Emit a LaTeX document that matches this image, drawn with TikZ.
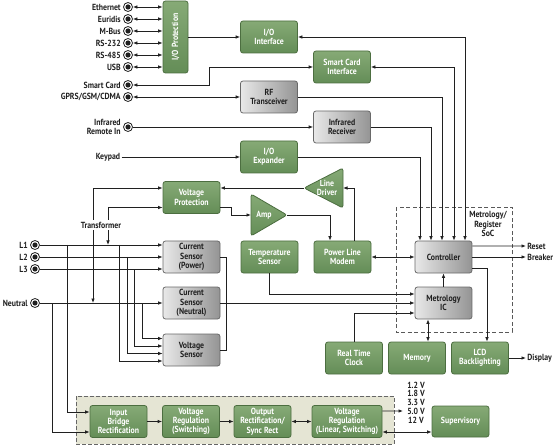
\documentclass[tikz,border=0pt]{standalone}
\usepackage{fontspec}
\setmainfont[FakeStretch=0.88]{PT Sans}
\usetikzlibrary{arrows.meta,positioning}
\definecolor{grn}{RGB}{100,141,87}
\definecolor{grnhi}{RGB}{134,170,118}
\definecolor{grnline}{RGB}{76,110,64}
\definecolor{gryhi}{RGB}{232,232,232}
\definecolor{grylo}{RGB}{148,148,148}
\definecolor{gryline}{RGB}{105,105,105}
\definecolor{beige}{RGB}{229,229,212}
\definecolor{ink}{RGB}{32,32,32}

\begin{document}
\begin{tikzpicture}[x=1bp, y=-1bp, color=ink, line width=0.8bp,
  font=\fontsize{8.9}{9.4}\selectfont\bfseries,
  >={Latex[length=4.5bp,width=3.6bp]},
  blk/.style={rounded corners=2.5bp, align=center, minimum width=57bp, minimum height=32bp, inner sep=0.5bp},
  gbox/.style={blk, draw=grnline, top color=grnhi, bottom color=grn, text=white},
  ybox/.style={blk, draw=gryline, left color=gryhi, right color=grylo, text=ink},
  gtri/.style={draw=grnline, rounded corners=2.5bp, top color=grnhi, bottom color=grn},
  gtxt/.style={text=white, align=center, inner sep=0pt},
  jack/.style={circle, draw, line width=0.8bp, inner sep=0pt, minimum size=9bp,
    path picture={\fill (path picture bounding box.center) circle (2.6bp);}},
  tag/.style={inner sep=1bp}]
\useasboundingbox (0,0) rectangle (553,447);

\draw[fill=beige, draw=gray!80!black, dash pattern=on 4bp off 2bp, line width=0.9bp] (76,396) rectangle (394,444);
\draw[draw=gray!70!black, dash pattern=on 4bp off 2.5bp, line width=0.9bp] (396,207) rectangle (512,332);

\node[gbox, minimum width=25bp, minimum height=72bp] (ioprot) at (175.5,37) {\rotatebox{90}{I/O Protection}};
\node[gbox] (ioint) at (269,37) {I/O\\Interface};
\node[gbox] (sci) at (342,67) {Smart Card\\Interface};
\node[ybox] (rf) at (269,97) {RF\\Transceiver};
\node[ybox] (irrx) at (342,127) {Infrared\\Receiver};
\node[gbox] (ioexp) at (269,157) {I/O\\Expander};
\node[gbox] (vprot) at (191.5,197.5) {Voltage\\Protection};
\draw[gtri] (251,194) -- (287,215) -- (251,236) -- cycle;
\node[gtxt] (amp) at (264,215) {Amp};
\coordinate (ampin) at (251,215);
\coordinate (ampout) at (287,215);
\draw[gtri] (343,168) -- (304,188) -- (343,208) -- cycle;
\node[gtxt] (ldrv) at (327,188) {Line\\Driver};
\coordinate (ldrvin) at (343,188);
\coordinate (ldrvout) at (304,188);
\node[ybox] (cspow) at (191.5,257) {Current\\Sensor\\(Power)};
\node[ybox] (csneu) at (191.5,303) {Current\\Sensor\\(Neutral)};
\node[ybox] (vsens) at (191.5,350) {Voltage\\Sensor};
\node[gbox] (temp) at (269.5,257) {Temperature\\Sensor};
\node[gbox] (plm) at (342.5,257) {Power Line\\Modem};
\node[ybox] (ctrl) at (443.5,257) {Controller};
\node[ybox] (metic) at (443.5,303) {Metrology\\IC};
\node[gbox] (rtc) at (354,358) {Real Time\\Clock};
\node[gbox] (mem) at (417,358) {Memory};
\node[gbox] (lcd) at (480,358) {LCD\\Backlighting};
\node[gbox] (ibr) at (118.5,421.5) {Input\\Bridge\\Rectification};
\node[gbox] (vrsw) at (191,421.5) {Voltage\\Regulation\\(Switching)};
\node[gbox] (orect) at (262.5,421.5) {Output\\Rectification/\\Sync Rect};
\node[gbox, minimum width=70bp] (vrlin) at (347,421.5) {Voltage\\Regulation\\(Linear, Switching)};
\node[gbox, minimum height=31bp] (sup) at (460.5,421.5) {Supervisory};

\node[tag, align=center] (soc) at (488,224) {Metrology/\\Register\\SoC};
\node[tag, anchor=west] (reset) at (526,246) {Reset};
\node[tag, anchor=west] (brk) at (526,257) {Breaker};
\node[tag, anchor=west] (disp) at (526,358) {Display};
\node[tag, align=center, font=\fontsize{8.9}{8.75}\selectfont\bfseries] (volts) at (416,402.5) {1.2 V\\1.8 V\\3.3 V\\5.0 V\\12 V};
\coordinate (vout) at (403,411);

\node[jack] (jeth) at (128,7) {};
\node[tag, left=1bp of jeth] (eth) {Ethernet};
\node[jack] (jeur) at (128,19) {};
\node[tag, left=1bp of jeur] (eur) {Euridis};
\node[jack] (jmbus) at (128,31) {};
\node[tag, left=1bp of jmbus] (mbus) {M-Bus};
\node[jack] (j232) at (128,43) {};
\node[tag, left=1bp of j232] (rs232) {RS-232};
\node[jack] (j485) at (128,55) {};
\node[tag, left=1bp of j485] (rs485) {RS-485};
\node[jack] (jusb) at (128,67) {};
\node[tag, left=1bp of jusb] (usb) {USB};
\node[jack] (jsc) at (128,85) {};
\node[tag, left=1bp of jsc] (sc) {Smart Card};
\node[jack] (jgprs) at (128,97) {};
\node[tag, left=1bp of jgprs] (gprs) {GPRS/GSM/CDMA};
\node[jack] (jir) at (128,127) {};
\node[tag, left=1bp of jir, align=right] (ir) {Infrared\\Remote In};
\node[tag, anchor=east] (key) at (121.5,157) {Keypad};
\node[jack] (jl1) at (35,245) {};
\node[tag, left=1bp of jl1] (l1) {L1};
\node[jack] (jl2) at (35,257) {};
\node[tag, left=1bp of jl2] (l2) {L2};
\node[jack] (jl3) at (35,269) {};
\node[tag, left=1bp of jl3] (l3) {L3};
\node[jack] (jn) at (35,303) {};
\node[tag, left=1bp of jn] (neu) {Neutral};

\draw[<->] (jeth) -- (jeth -| ioprot.west);
\draw[<->] (jeur) -- (jeur -| ioprot.west);
\draw[<->] (jmbus) -- (jmbus -| ioprot.west);
\draw[<->] (j232) -- (j232 -| ioprot.west);
\draw[<->] (j485) -- (j485 -| ioprot.west);
\draw[<->] (jusb) -- (jusb -| ioprot.west);
\draw[->] (ioprot) -- (ioint);
\draw[<->] (jsc) -| (209,67) -- (sci);
\draw[<->] (jgprs) -- (rf);
\draw[->] (jir) -- (irrx);
\draw[->] (key) -- (ioexp);
\draw[<->] (ioint) -| ([xshift=21.5bp]ctrl.north);
\draw[<->] (sci) -| ([xshift=10.5bp]ctrl.north);
\draw[->] (rf) -| ([xshift=-1.5bp]ctrl.north);
\draw[->] (irrx) -| ([xshift=-12.5bp]ctrl.north);
\draw[->] (ioexp) -| ([xshift=-23.5bp]ctrl.north);

\draw[->] (ldrvout) -- (ldrvout -| vprot.east);
\draw[->] ([yshift=-10bp]vprot.east) -- ++(11,0) |- (ampin);
\draw[->] (ampout) -| ([xshift=-12.5bp]plm.north);
\draw[->] ([xshift=11.5bp]plm.north) |- (ldrvin);
\draw[<->] (plm) -- (ctrl);
\draw[->] (metic) -- (ctrl);
\draw[<->] ([xshift=-15.5bp]metic.south) -- ([xshift=-15.5bp]metic.south |- mem.north);
\draw[->] ([yshift=11bp]ctrl.east) -- (reset);
\draw[->] (ctrl) -- (brk);
\draw[->] ([yshift=-11bp]ctrl.east) -| ([xshift=7bp]lcd.north);
\draw[->] (lcd) -- (disp);
\draw[->] (rtc.north) |- ([yshift=-10bp]metic.west);
\draw[->] (temp.south) |- ([yshift=9bp]metic.west);
\draw[->] (csneu) -- (metic);
\draw (cspow.east) -- ++(6,0) |- (vsens.east);

\draw[->] (jl1) -- (jl1 -| cspow.west);
\draw[->] (jl2) -- (cspow);
\draw[->] (jl3) -- (jl3 -| cspow.west);
\draw[->] (jn) -- (csneu);
\coordinate (t1a) at (67,245);
\coordinate (tna) at (52,303);
\coordinate (t1b) at (119,245);
\coordinate (t2b) at (127,257);
\coordinate (t3b) at (134,269);
\coordinate (tnb) at (142,303);
\draw[->] (t1a) |- ([yshift=9.5bp]ibr.west);
\draw[->] (tna) |- ([yshift=-10.5bp]ibr.west);
\draw[->] (t1b) |- ([yshift=-11bp]vsens.west);
\draw[->] (t2b) |- ([yshift=-3.5bp]vsens.west);
\draw[->] (t3b) |- ([yshift=4bp]vsens.west);
\draw[->] (tnb) |- ([yshift=11.5bp]vsens.west);
\coordinate (ttn) at (93,303);
\coordinate (tt1) at (108,245);
\draw[<->] (ttn) |- ([yshift=9.5bp]vprot.west);
\draw[<->] (tt1) |- ([yshift=-10bp]vprot.west);
\node[tag, fill=white, inner ysep=2bp] (trf) at (101,225) {Transformer};

\draw[->] (ibr) -- (vrsw);
\draw[->] (vrsw) -- (orect);
\draw[<->] (orect) -- (vrlin);
\draw[->] ([yshift=10.5bp]vrlin.east) -- (vout);
\draw[<->] ([yshift=-10.5bp]vrlin.east) -- ([yshift=-10.5bp]sup.west);
\end{tikzpicture}
\end{document}
